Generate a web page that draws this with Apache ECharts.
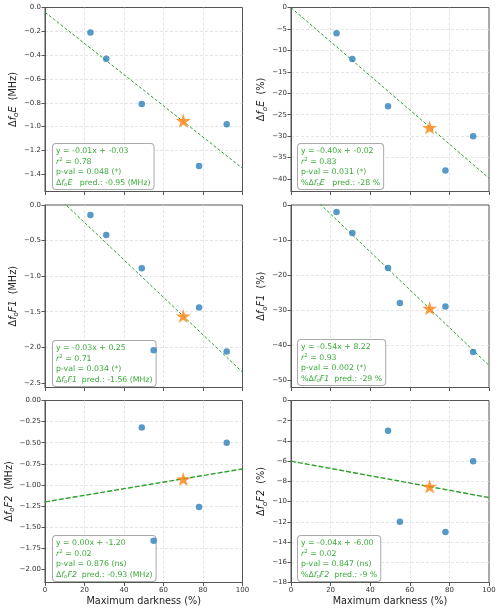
<!DOCTYPE html>
<html>
<head>
<meta charset="utf-8">
<script src="https://cdn.jsdelivr.net/npm/echarts@6/dist/echarts.min.js"></script>
<style>
  html, body { margin: 0; padding: 0; background: #fff; }
  #chart { width: 500px; height: 613px; }
</style>
</head>
<body>
<div id="chart"></div>
<script>
// maximum darkness (%) of each eclipse event
const darkness = [23, 31, 49, 55, 78, 92];

// observed changes, null = no value
const foE_MHz  = [-0.21, -0.43, -0.81, null, -1.33, -0.98];
const foE_pct  = [-6, -12, -23, null, -38, -30];
const foF1_MHz = [-0.14, -0.42, -0.89, -2.04, -1.44, -2.06];
const foF1_pct = [-2, -8, -18, -28, -29, -42];
const foF2_MHz = [null, null, -0.32, -1.66, -1.26, -0.50];
const foF2_pct = [null, null, -3, -12, -13, -6];

// predicted value at 70 % darkness (star)
const predX = 70;
const predY = [-0.95, -28, -1.56, -29.5, -0.93, -8.5];

// fit line read at x = 0 and x = 100
const fitStart = [-0.04, -0.02, 0.28, 8.22, -1.20, -6.0];
const fitEnd   = [-1.35, -39.8, -2.35, -45.8, -0.81, -9.6];

// y tick labels
const yTicks = [
  [0, -0.2, -0.4, -0.6, -0.8, -1.0, -1.2, -1.4],
  [0, -5, -10, -15, -20, -25, -30, -35, -40],
  [0, -0.5, -1.0, -1.5, -2.0, -2.5],
  [0, -10, -20, -30, -40, -50],
  [0, -0.25, -0.5, -0.75, -1.0, -1.25, -1.5, -1.75, -2.0],
  [0, -2, -4, -6, -8, -10, -12, -14, -16, -18]
];
const yDecimals = [1, 0, 1, 0, 2, 0];
const yStep = [0.2, 5, 0.5, 10, 0.25, 2];
const yMin = [-1.545, -42.9, -2.565, -52.1, -2.154, -18];

const fitText = [
  ['y = -0.01x + -0.03', '0.78', 'p-val = 0.048 (*)', '', 'E', '   pred.: -0.95 (MHz)'],
  ['y = -0.40x + -0.02', '0.83', 'p-val = 0.031 (*)', '%', 'E', '   pred.: -28 %'],
  ['y = -0.03x + 0.25', '0.71', 'p-val = 0.034 (*)', '', 'F1', '  pred.: -1.56 (MHz)'],
  ['y = -0.54x + 8.22', '0.93', 'p-val = 0.002 (*)', '%', 'F1', '  pred.: -29 %'],
  ['y = 0.00x + -1.20', '0.02', 'p-val = 0.876 (ns)', '', 'F2', '  pred.: -0.93 (MHz)'],
  ['y = -0.04x + -6.00', '0.02', 'p-val = 0.847 (ns)', '%', 'F2', '  pred.: -9 %']
];
const yNames = [['E', '(MHz)'], ['E', '(%)'], ['F1', '(MHz)'], ['F1', '(%)'], ['F2', '(MHz)'], ['F2', '(%)']];

const values = [foE_MHz, foE_pct, foF1_MHz, foF1_pct, foF2_MHz, foF2_pct];

const FONT = 'DejaVu Sans';
const GREEN = '#3aaa3a';
const SPINE = '#555';
const starPath = 'path://M50,0 L61,35 L98,35 L68,57 L79,91 L50,70 L21,91 L32,57 L2,35 L39,35 Z';

const colLeft = [45, 291];
const colWidth = [197.5, 198];
const rowTop = [7.5, 205, 400.5];
const rowHeight = [184, 182.5, 182];
const boxPos = [[52, 143], [297, 143], [52, 340], [297, 339], [52, 535], [297, 535]];

function fmt(v, d) {
  let s = v.toFixed(d);
  if (v < 0) s = '\u2212' + s.slice(1);
  return s;
}

const grids = [], xAxes = [], yAxes = [], series = [], graphics = [];
const gridLine = { show: true, showMinLine: false, showMaxLine: false,
  lineStyle: { color: '#dedede', type: [3, 2], width: 0.8 } };

for (let i = 0; i < 6; i++) {
  const row = Math.floor(i / 2), col = i % 2;
  const bottomRow = row === 2;
  grids.push({
    left: colLeft[col], top: rowTop[row], width: colWidth[col], height: rowHeight[row],
    show: true, borderColor: SPINE, borderWidth: 1, backgroundColor: 'transparent'
  });
  xAxes.push({
    gridIndex: i, type: 'value', min: 0, max: 100, interval: 20,
    axisLine: { show: true, onZero: false, lineStyle: { color: SPINE } },
    axisTick: { show: true, length: 3.5, lineStyle: { color: SPINE } },
    axisLabel: { show: bottomRow, fontSize: 7, fontFamily: FONT, color: '#333', margin: 4 },
    splitLine: gridLine,
    name: bottomRow ? 'Maximum darkness (%)' : '',
    nameLocation: 'middle', nameGap: 14,
    nameTextStyle: { fontSize: 9.7, fontFamily: FONT, color: '#222' }
  });
  const d = yDecimals[i];
  yAxes.push({
    gridIndex: i, type: 'value', min: yMin[i], max: 0, interval: yStep[i],
    axisLine: { show: true, onZero: false, lineStyle: { color: SPINE } },
    axisTick: { show: true, length: 3.5, lineStyle: { color: SPINE }, customValues: yTicks[i] },
    axisLabel: {
      fontSize: 7, fontFamily: FONT, color: '#333', margin: 4,
      customValues: yTicks[i], formatter: v => fmt(v, d)
    },
    splitLine: gridLine,
    name: '{n|\u0394}{i|f}{s|o}{i|' + yNames[i][0] + '}{n|  ' + yNames[i][1] + '}',
    nameLocation: 'middle', nameGap: 22,
    nameTextStyle: {
      fontSize: 9.7, fontFamily: FONT, color: '#222',
      rich: {
        n: { fontSize: 9.7, fontFamily: FONT, color: '#222', lineHeight: 13 },
        i: { fontSize: 9.7, fontFamily: FONT, color: '#222', fontStyle: 'italic', lineHeight: 13 },
        s: { fontSize: 7, fontFamily: FONT, color: '#222', fontStyle: 'italic', lineHeight: 7, verticalAlign: 'bottom' }
      }
    }
  });

  const pts = [];
  darkness.forEach((x, k) => { if (values[i][k] !== null) pts.push([x, values[i][k]]); });

  series.push({
    type: 'line', xAxisIndex: i, yAxisIndex: i, clip: true, silent: true,
    data: [[0, fitStart[i]], [100, fitEnd[i]]],
    symbol: 'none',
    lineStyle: { color: '#2ca02c', width: bottomRow ? 1.4 : 1, type: bottomRow ? [5, 2] : [3, 2] },
    z: 2
  });
  series.push({
    type: 'scatter', xAxisIndex: i, yAxisIndex: i,
    data: pts, symbolSize: 6.5,
    itemStyle: { color: '#1f77b4', opacity: 0.75 },
    z: 3
  });
  series.push({
    type: 'scatter', xAxisIndex: i, yAxisIndex: i,
    data: [[predX, predY[i]]], symbol: starPath, symbolSize: [15, 14],
    itemStyle: { color: '#ff7f0e' },
    z: 4
  });

  const t = fitText[i];
  graphics.push({
    type: 'text', left: boxPos[i][0], top: boxPos[i][1], z: 1,
    style: {
      text: '{t|' + t[0] + '}\n{i|r}{p|2}{t| = ' + t[1] + '}\n{t|' + t[2] + '}\n' +
        (t[3] ? '{t|%}' : '') + '{t|\u0394}{i|f}{s|o}{i|' + t[4] + '}{t|' + t[5] + '}',
      rich: {
        t: { fontSize: 7.8, fontFamily: FONT, fill: GREEN, lineHeight: 10.5 },
        i: { fontSize: 7.8, fontFamily: FONT, fill: GREEN, fontStyle: 'italic', lineHeight: 10.5 },
        s: { fontSize: 5.5, fontFamily: FONT, fill: GREEN, fontStyle: 'italic', lineHeight: 6, verticalAlign: 'bottom' },
        p: { fontSize: 5.5, fontFamily: FONT, fill: GREEN, lineHeight: 6, verticalAlign: 'top' }
      },
      backgroundColor: '#fff',
      borderColor: '#aaa', borderWidth: 1, borderRadius: 3,
      padding: [2, 3, 1, 3]
    }
  });
}

const chart = echarts.init(document.getElementById('chart'), null, { renderer: 'canvas' });
chart.setOption({
  animation: false,
  grid: grids,
  xAxis: xAxes,
  yAxis: yAxes,
  series: series,
  graphic: graphics
});
window.addEventListener('resize', () => chart.resize());
</script>
</body>
</html>
